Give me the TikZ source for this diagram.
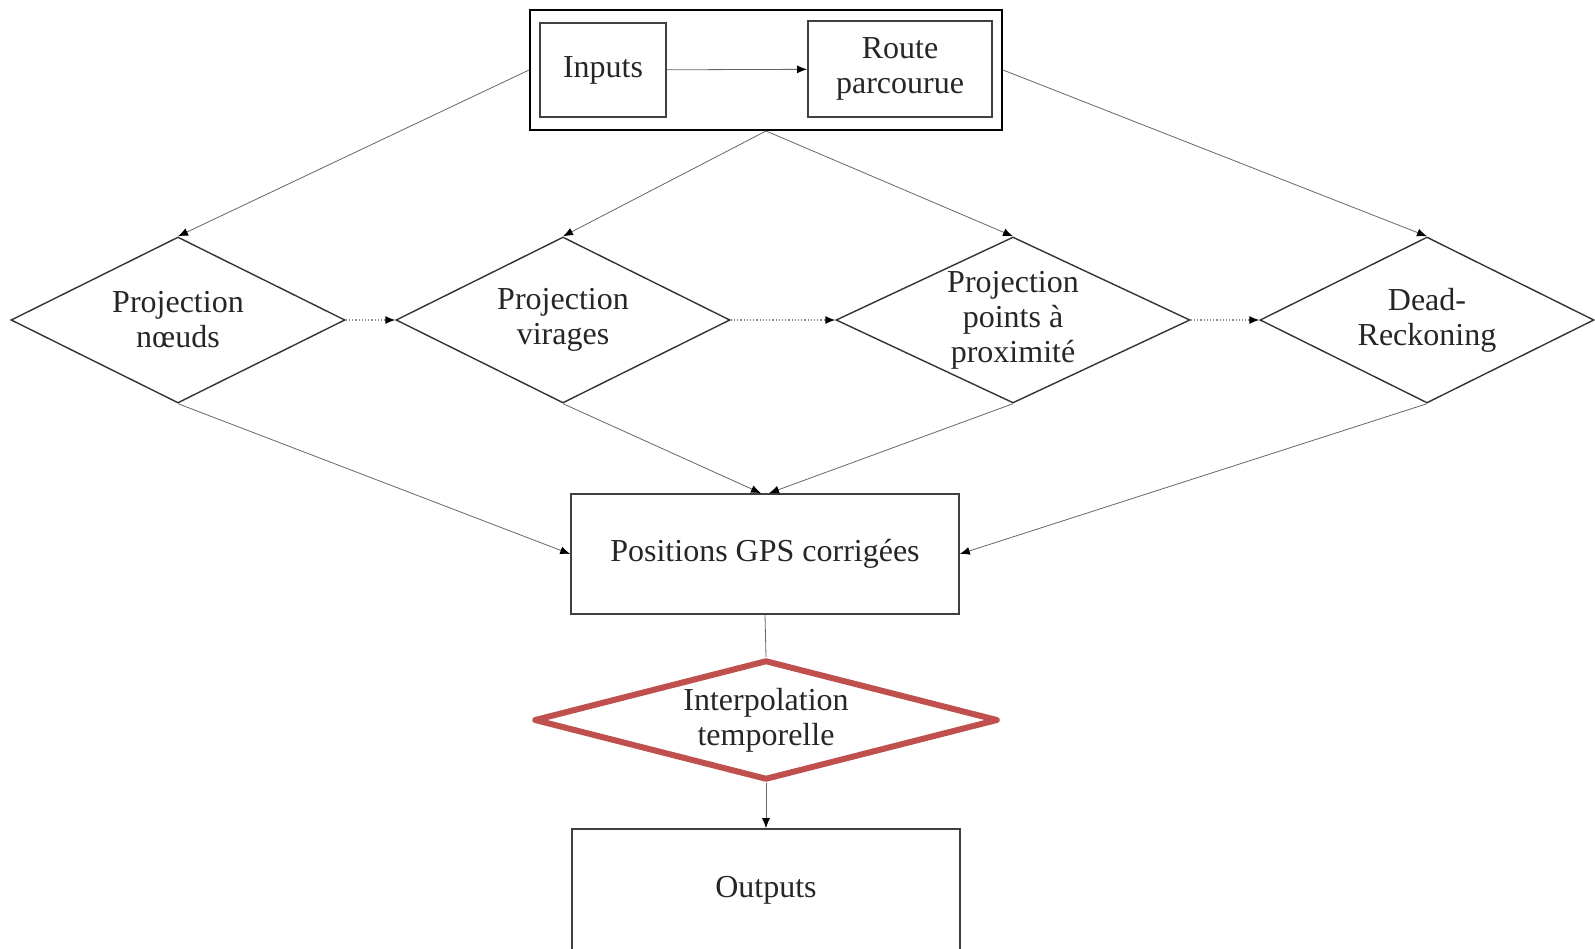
\documentclass[tikz,border=0pt]{standalone}
\usepackage{fontspec}
\setmainfont{Liberation Serif}
\usepackage{tikz}
\usetikzlibrary{shapes.geometric,arrows.meta}
\definecolor{boxred}{RGB}{192,80,77}

\begin{document}
\begin{tikzpicture}[x=0.5pt, y=-0.5pt,
    every node/.style = {font=\fontsize{16}{17.5}\selectfont, text=black!85, align=center},
    losange/.style = {diamond, draw=black!80, line width=0.7pt, aspect=2, inner sep=0pt,
                      minimum width=167pt, minimum height=83pt},
    boite/.style = {rectangle, draw=black!75, line width=0.8pt, inner sep=0pt},
    conn/.style = {draw=black!60, line width=0.4pt, -{Latex[length=5pt,width=4pt,fill=black,color=black]}},
    suite/.style = {draw=black!45, line width=0.6pt, densely dotted, -{Latex[length=5pt,width=4pt,fill=black,color=black]}}]
                \useasboundingbox (0,0) rectangle (1595,948);

                % Inputs block
                \node[rectangle, draw=black, line width=1pt, minimum width=236pt, minimum height=60pt] (top) at (766,70) {};
                \node[boite, line width=1pt, minimum width=63pt, minimum height=47pt] (in) at (603,70) {Inputs};
                \node[boite, line width=1pt, minimum width=92pt, minimum height=48pt] (route) at (900,69) {Route\\parcourue};
                \draw[conn] (in) -- (route);

                % Projection methods
                \node[losange] (pn) at (178,320) {Projection\\n\oe uds};
                \node[losange] (pv) at (563,320) {Projection\\virages};
                \node[losange, minimum width=177pt] (pp) at (1013,320) {Projection\\points à\\proximité};
                \node[losange] (dr) at (1427,320) {Dead-\\Reckoning};

                \draw[conn] (top.west) -- (pn.north);
                \draw[conn] (top.south) -- (pv.north);
                \draw[conn] (top.south) -- (pp.north);
                \draw[conn] (top.east) -- (dr.north);

                % Fallback order (dotted)
                \draw[suite] (pn.east) -- (pv.west);
                \draw[suite] (pv.east) -- (pp.west);
                \draw[suite] (pp.east) -- (dr.west);

                % Corrected positions
                \node[boite, minimum width=194pt, minimum height=60pt] (gps) at (765,554) {Positions GPS corrigées};
                \draw[conn] (pn.south) -- (gps.west);
                \draw[conn] (pv.south) -- ([xshift=-2pt]gps.north);
                \draw[conn] (pp.south) -- ([xshift=2pt]gps.north);
                \draw[conn] (dr.south) -- (gps.east);

                % Time interpolation (highlighted)
                \node[diamond, draw=boxred, line width=3pt, line join=round, aspect=3.8, inner sep=0pt,
                      minimum width=232pt, minimum height=60pt] (interp) at (766,720) {Interpolation\\temporelle};
                \draw[draw=black!60, line width=0.4pt] (gps.south) -- (interp.north);

                % Outputs
                \node[boite, minimum width=194pt, minimum height=61pt] (out) at (766,890) {Outputs};
                \draw[conn] (interp.south) -- (out.north);
            \end{tikzpicture}
\end{document}
